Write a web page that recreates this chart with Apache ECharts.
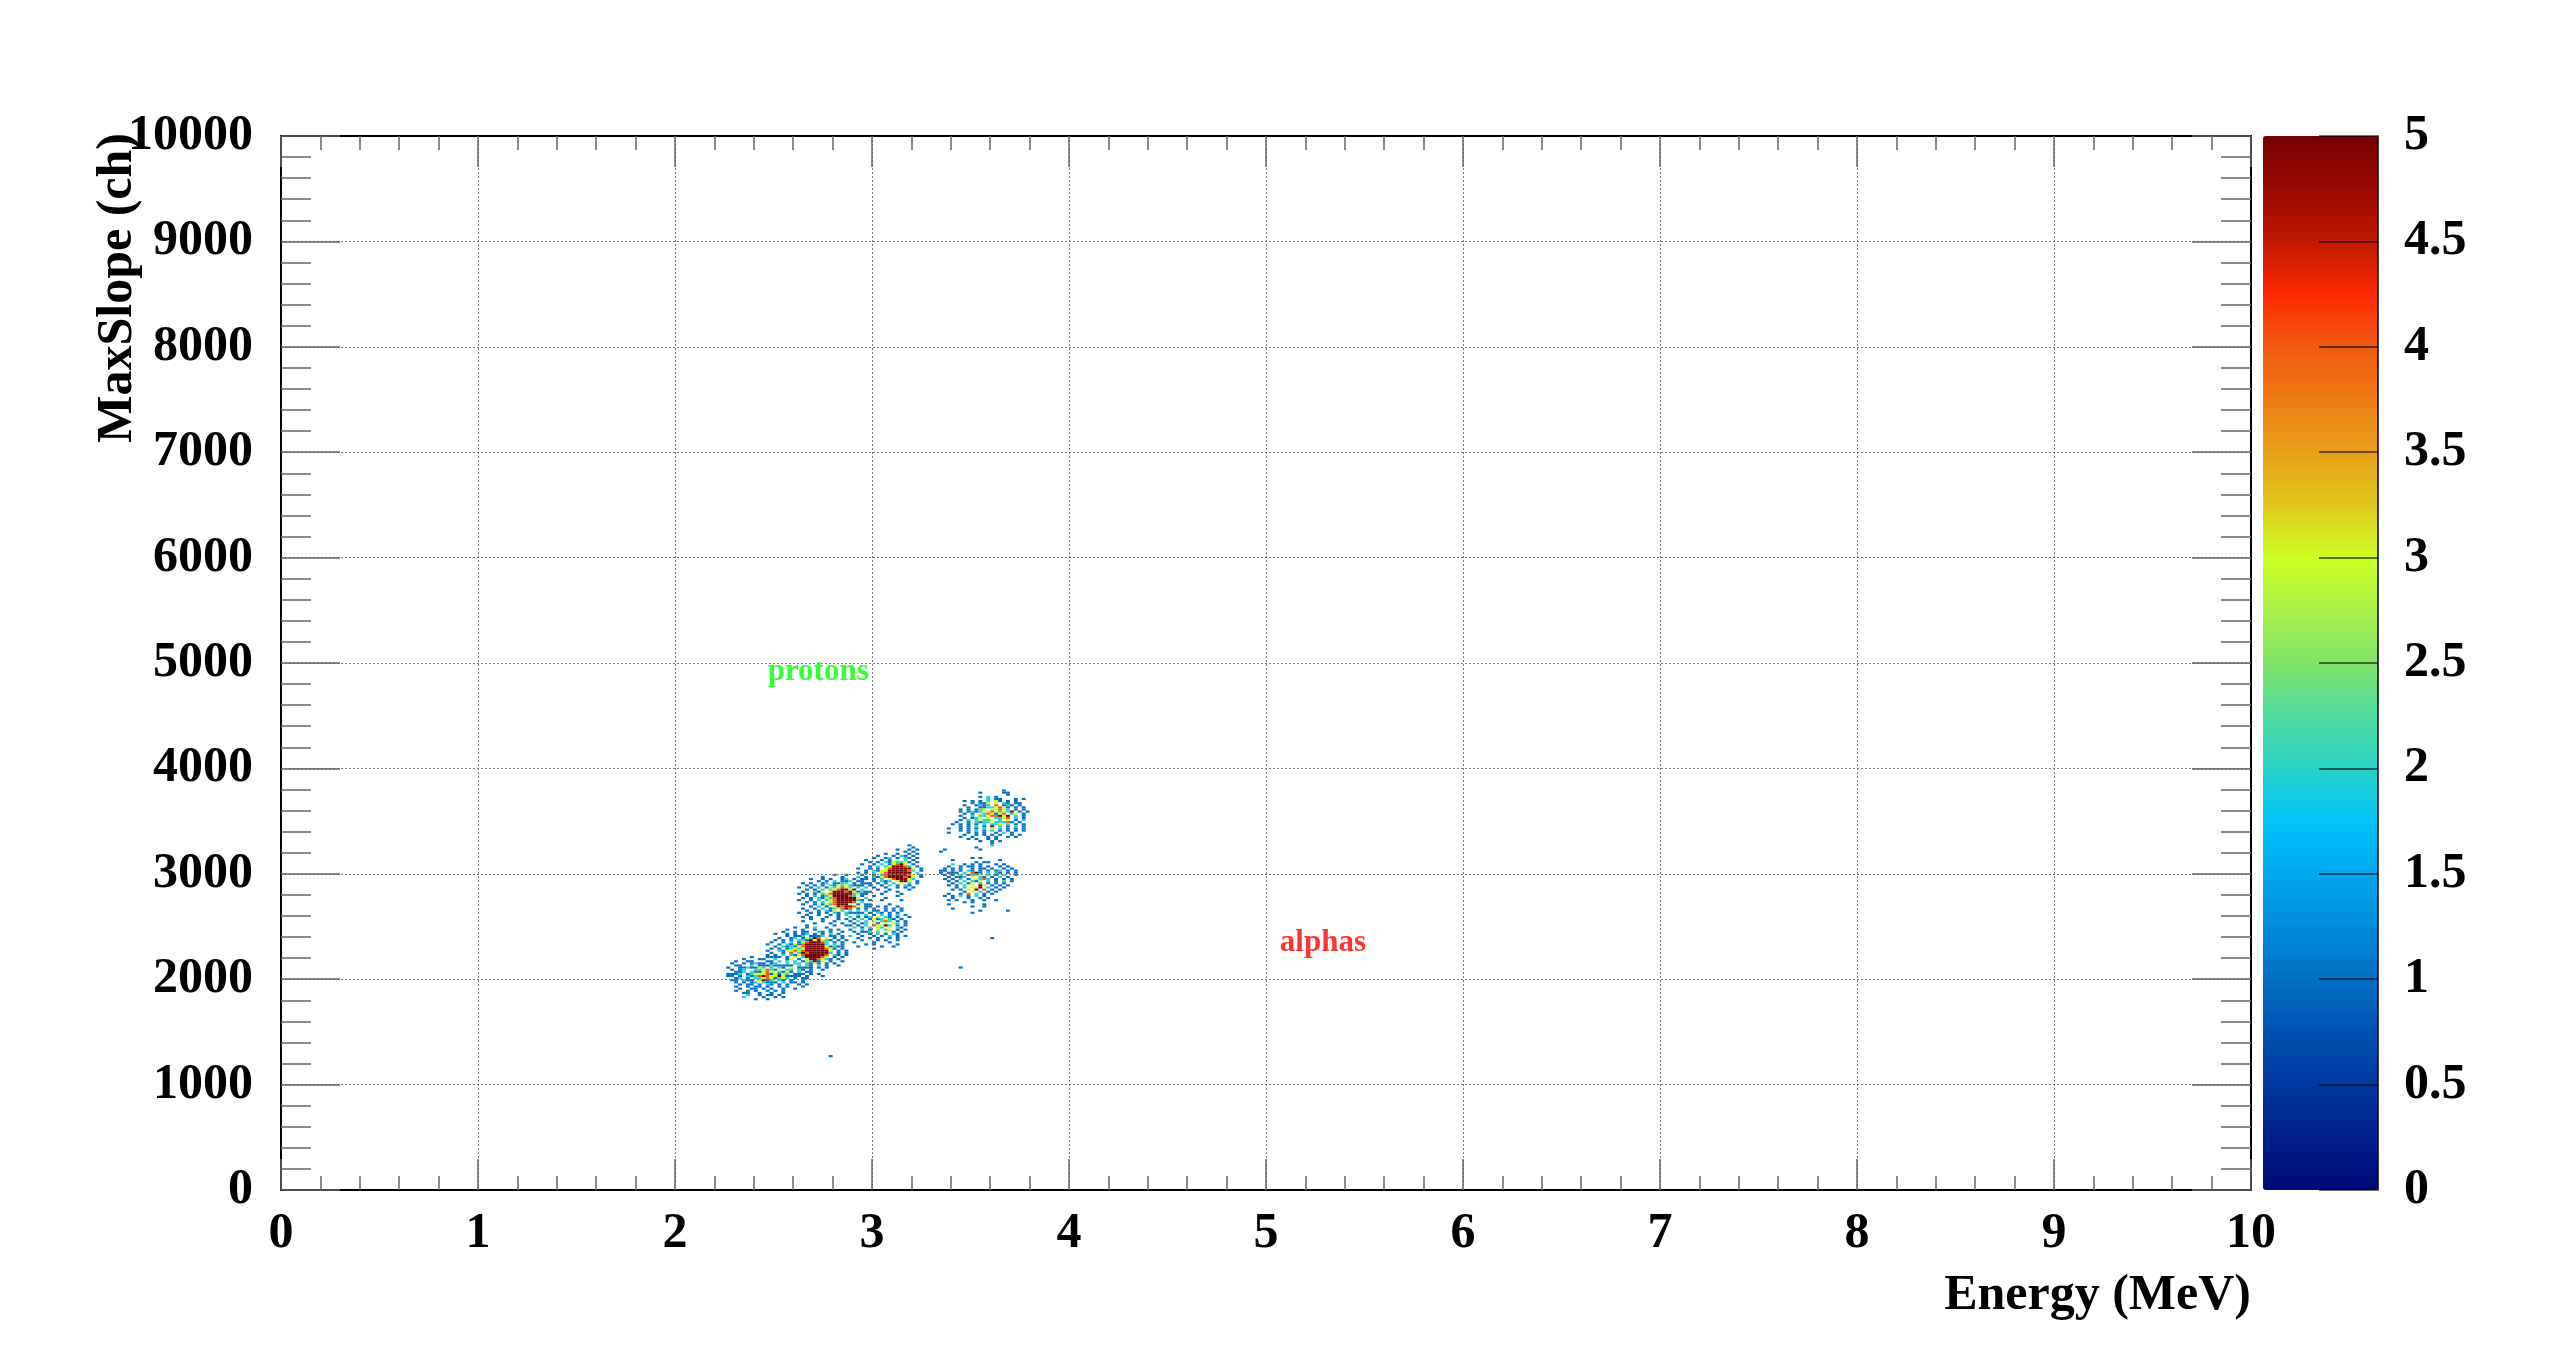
<!DOCTYPE html>
<html>
<head>
<meta charset="utf-8">
<script src="https://cdn.jsdelivr.net/npm/echarts/dist/echarts.min.js"></script>
<style>
html,body{margin:0;padding:0;background:#fff;}
#chart{width:2558px;height:1362px;}
</style>
</head>
<body>
<div id="chart"></div>
<script>
// ---------------- axis ticks ----------------
const xTicks = [0, 1, 2, 3, 4, 5, 6, 7, 8, 9, 10];
const yTicks = [0, 1000, 2000, 3000, 4000, 5000, 6000, 7000, 8000, 9000, 10000];
const zTicks = [0, 0.5, 1, 1.5, 2, 2.5, 3, 3.5, 4, 4.5, 5];

// ---------------- histogram binning ----------------
const BIN_E = 0.02;   // MeV per bin
const BIN_S = 20;     // ch per bin

// Each cluster: [first column bin index, bin index of the top row], rows listed top -> bottom,
// one character per bin ('.' = empty, digit = counts).
const clusterA_origin = [113, 110];
const clusterA = [
  "......1...1.1.........",
  "....1...11..1...1.....",
  "..1..11...1..1.1......",
  ".1..1.1211.11..1.1....",
  "..11..2.11.211.1..1...",
  "1..1121132.1.11.2.1.1.",
  ".1.12..2234212.12.11..",
  "..112.21134232121.1..1",
  "1112.12333413122.1.1..",
  "11.1.212454325311.1.1.",
  "..12.1.223431231.1.1..",
  ".11.211.3512321.1..1..",
  "..1.1.12.2111.2.11.1..",
  "...1.11.1.21.1.1..1.1.",
  "..1..1.11.1..1.1...1..",
  "...1..11.1.1..1..1....",
  "..1..1.1..1.1.1.......",
  "....11..1..1..1.......",
  ".....2..1.11.1........",
  "....2....1..1.1.......",
  ".......1..1..........."
];

const clusterB_origin = [122, 124];
const clusterB = [
  "........1..1.1..1......",
  "......1...1..1...1.1...",
  ".....1..1.11..21.1..1..",
  "...1..1.1.12.1.1.2.1...",
  "......1.112.1112.11.1.1",
  "....1..12.13254.3.1.1..",
  "...1.1.1.221535321.1.1.",
  "..1..1.2.13455542.1.1..",
  ".1..1.21314555552.2.1..",
  "...1.2121345555531211..",
  "..1.1.1232355555431.1..",
  ".1..21334345555553.1.1.",
  "..1..1.4.254555552.1.1.",
  ".1.1.2.2134555554.21.1.",
  "..1.1.1.3.2555543.1.1..",
  "...1..12.1.3554321.1...",
  "..1.1.1.2.132513.1..1..",
  "...1..1.12.2131.1.1....",
  ".1...1.1.1.21.2.1..1...",
  "..1.1..1..1.1.1.1......",
  "....1.1..1..1..1.......",
  "..1...1..1.1...........",
  ".....1...1..1.1........",
  "...1....1......1.......",
  "......1....1..........."
];

const clusterC_origin = [130, 149];
const clusterC = [
  "..........1..1......",
  ".......1....1...1...",
  "....1..1.1..12.1.1..",
  "......1.1.2.112.1...",
  "..1.1..12.1122.1.1.1",
  "...1.1.1.2132321.1..",
  ".1..1.2.1323432.2.1.",
  "...1.1.2.2345535.1..",
  "..1..213.3555453121.",
  ".1.1.1.2345555523.1.",
  "...1.2.123555542.1..",
  "..1.1.21324555553.1.",
  ".1..1.2.2345555521.1",
  "...1.1.2.3455554.2..",
  "..1..1.13245553.1.1.",
  "....1.2.1.3545542.1.",
  "..1..1.2.123453.1...",
  "...1..1.213.2.2.1.1.",
  ".1..1.1.1.21.21.1...",
  "...1..1..1.1.1..1...",
  "..1.1...1..1..1.....",
  "....1..1...1.1......",
  "..1....1..1.....1...",
  ".....1...1..1.......",
  "...1......1..1......",
  ".....1.........1...."
];

const clusterD_origin = [143, 135];
const clusterD = [
  "......1....1.....",
  "...1..1.1.1..1...",
  ".1...1.1..1.1.1..",
  "...1.1.11.1.1.1..",
  "..1.1.1.21.1.1...",
  "1..1.2.1.2.1.2.1.",
  ".1.1.12.3.21.1..1",
  "..1.2.1312321.1..",
  ".1.1.2.3.242.1.1.",
  "..1.12.31.3.32.1.",
  ".1.1.2.43352.1.1.",
  "..1.1.2.32.3.21..",
  ".1..2.1.3.23.1.1.",
  "..1.112.2.3.1.1..",
  "...1..1.2.1.21...",
  ".1..1..1.1.2.1.1.",
  "...1..1.1..1.1...",
  "....1...1.1..1...",
  "..1....1...1.....",
  ".....1.1.....1...",
  "...1.....1..1....",
  ".......1........."
];

const clusterE_origin = [145, 163];
const clusterE = [
  "..............1...",
  "...............1..",
  "...........1..1.1.",
  ".............1.1..",
  "........1..1..1.1.",
  "......1...1.21.1..",
  ".....1..12.1.21.1.",
  "...1...1.1.3.2.1..",
  "....1.1.2132231.1.",
  "..1..1.2.13453.1..",
  "....1.2.2355542.1.",
  ".1..1.1.34555553.1",
  "...1.21335555542.1",
  ".1.1.2.34555555.2.",
  "..1..1.245555543.1",
  ".1.1.21345555453.1",
  "...1.1.2.3455532..",
  "..1..1.212.3553.1.",
  "...1..1.1.2.3.2.1.",
  ".1..1..1.2.1.21...",
  "...1.1..1..1.1.1..",
  "..1...1..1....1...",
  "....1...1..1......",
  "..1....1....1.....",
  ".....1.....1......",
  "...1....1.........",
  ".......1....1....."
];

const clusterF_origin = [167, 157];
const clusterF = [
  "........1.1..........",
  "...1...........1.....",
  ".........1.11........",
  "...2..1.1.1...1.1....",
  "..1..1.11.1.1..1.1...",
  ".1.1.1..1.11.1..1.1..",
  "11.1.1.21.1.1.12.1.1.",
  "1.111.2.451.2.21.1.1.",
  ".1.1.2.1223.2.1.2..1.",
  "..1.112.3.21.1.2.1...",
  ".1.1.2.1.3242.1.1.1..",
  "..1.1.2.213.2.1.2.1..",
  "...1.2.13.2.1.1.1....",
  "..1.1.2.3.53.1.1.1...",
  "....1.2.335.2.1.1....",
  "...1.1.3.5.4.1.1.....",
  "......1.3.2.1.1......",
  "..1..1.4.2.1.1.......",
  ".1.1.2.1.2.1.........",
  "...1...1..1.1........",
  "..1.1...1..1..1......",
  "......1.1............",
  "..1........1.........",
  "........1..1.........",
  "...1.................",
  "..........1......1...",
  "........1............"
];

const clusterG_origin = [169, 189];
const clusterG = [
  "..............1......",
  "........1.....11.....",
  "...............1.....",
  "........1.2.1........",
  "..........2.11...1.1.",
  "....1.1.1.2.31.1.1...",
  "......1.113.3.21.11..",
  "....1..1212.4.121.1..",
  ".....1..11223431.1.1.",
  "...1.1.123.33432.1.1.",
  "...1.1212.3432325.1.1",
  "....1.1.3243134.23.1.",
  "...1..2.22344535.2.1.",
  "....1.123.3.2234.2.1.",
  "...1.2.2.223.2.3.1.2.",
  "..1..1.2122.22241.1..",
  ".1.1.1.1.2.223.2.1.1.",
  "...1.1.2.1.5.2.1.2.1.",
  "1..1.1.1.2.3.2.1.1.1.",
  "...1.1.2.1.2.1.1.1.1.",
  ".....1.1.1..1.2.1....",
  "....1..1.1.1.1..1.1..",
  "...1..1...1.1..1.1...",
  ".....1.1..1.1........",
  "........1..1.1.......",
  "...........1.........",
  "...........2.........",
  ".......1.............",
  "........1............"
];

// isolated single entries
const strayE = [2.78, 3.44, 3.60, 3.34, 3.36, 3.38];
const strayS = [1260, 2100, 2380, 3200, 3220, 3380];
const strayN = [1, 1, 1, 1, 1, 1];

// text annotations
const noteText  = ['protons', 'alphas'];
const noteE     = [2.47, 5.07];
const noteS     = [4915, 2343];
const noteColor = ['#00ff00', '#ff0000'];

// ---------------- build histogram cells ----------------
const counts = new Map();
function addCount(i, j, v) {
  const k = i + ',' + j;
  counts.set(k, (counts.get(k) || 0) + v);
}
function addBlock(rows, origin) {
  rows.forEach((row, r) => {
    for (let c = 0; c < row.length; c++) {
      const ch = row[c];
      if (ch === '.' || ch === ' ') continue;
      addCount(origin[0] + c, origin[1] - r, Number(ch));
    }
  });
}
addBlock(clusterA, clusterA_origin);
addBlock(clusterB, clusterB_origin);
addBlock(clusterC, clusterC_origin);
addBlock(clusterD, clusterD_origin);
addBlock(clusterE, clusterE_origin);
addBlock(clusterF, clusterF_origin);
addBlock(clusterG, clusterG_origin);
strayE.forEach((e, k) => addCount(Math.floor(e / BIN_E + 1e-6), Math.floor(strayS[k] / BIN_S + 1e-6), strayN[k]));

const cells = [];
counts.forEach((v, k) => {
  const [i, j] = k.split(',').map(Number);
  cells.push([+(i * BIN_E).toFixed(4), j * BIN_S, v]);
});

// ---------------- styling ----------------
const FONT = 'Liberation Serif';
const labelStyle = { fontFamily: FONT, fontWeight: 'bold', fontSize: 50, color: '#000' };
const tickLine = { color: '#666', width: 1.5 };
const frameLine = { color: '#000', width: 2 };
const gridLine = { color: '#7a7a7a', width: 1, type: [2, 2] };

const palette = [
  '#000a78', '#00208c', '#0038a0', '#0052b2', '#0070c4', '#008cda', '#00a8ee', '#00c4fa',
  '#28d2c8', '#50dca0', '#80e468', '#a8f048', '#ccff22', '#e0c81c', '#e8a018', '#ee7c14',
  '#f05a10', '#ff2a00', '#c01800', '#980a00', '#780000'
];

const G = { left: 281, top: 136, width: 1970, height: 1054 };
const CB = { left: 2263, top: 136, width: 115, height: 1054 };

function xAx(extra) {
  return Object.assign({
    type: 'value', gridIndex: 0,
    min: xTicks[0], max: xTicks[xTicks.length - 1], interval: xTicks[1] - xTicks[0],
    axisLine: { show: true, onZero: false, lineStyle: frameLine },
    axisTick: { show: true, inside: true, length: 31, lineStyle: tickLine },
    minorTick: { show: true, splitNumber: 5, length: 14, lineStyle: tickLine },
    z: 5
  }, extra);
}
function yAx(extra) {
  return Object.assign({
    type: 'value', gridIndex: 0,
    min: yTicks[0], max: yTicks[yTicks.length - 1], interval: yTicks[1] - yTicks[0],
    axisLine: { show: true, onZero: false, lineStyle: frameLine },
    axisTick: { show: true, inside: true, length: 59, lineStyle: tickLine },
    minorTick: { show: true, splitNumber: 5, length: 30, lineStyle: tickLine },
    z: 5
  }, extra);
}

const chart = echarts.init(document.getElementById('chart'), null, { renderer: 'canvas' });
chart.setOption({
  backgroundColor: '#ffffff',
  animation: false,
  grid: [
    Object.assign({ containLabel: false, outerBoundsMode: 'none' }, G),
    Object.assign({ containLabel: false, outerBoundsMode: 'none' }, CB)
  ],
  xAxis: [
    xAx({ position: 'bottom',
      splitLine: { show: true, lineStyle: gridLine },
      axisLabel: Object.assign({ margin: 19, formatter: v => String(v) }, labelStyle) }),
    xAx({ position: 'top', splitLine: { show: false }, axisLabel: { show: false } }),
    { type: 'value', gridIndex: 1, min: 0, max: 1, show: false }
  ],
  yAxis: [
    yAx({ position: 'left',
      splitLine: { show: true, lineStyle: gridLine },
      axisLabel: Object.assign({ margin: 28, padding: [14, 0, 0, 0], formatter: v => String(v) }, labelStyle) }),
    yAx({ position: 'right', splitLine: { show: false }, axisLabel: { show: false } }),
    {
      type: 'value', gridIndex: 1, position: 'right',
      min: zTicks[0], max: zTicks[zTicks.length - 1], interval: zTicks[1] - zTicks[0],
      axisLine: { show: true, onZero: false, lineStyle: { color: '#000', width: 1.5 } },
      axisTick: { show: true, inside: true, length: 59, lineStyle: { color: 'rgba(0,0,0,0.55)', width: 2 } },
      minorTick: { show: false },
      splitLine: { show: false },
      axisLabel: Object.assign({ margin: 26, padding: [14, 0, 0, 0], formatter: v => String(v) }, labelStyle),
      z: 10
    }
  ],
  visualMap: {
    type: 'continuous',
    seriesIndex: 0,
    dimension: 2,
    min: zTicks[0], max: zTicks[zTicks.length - 1],
    orient: 'vertical',
    left: CB.left, top: CB.top,
    itemWidth: CB.width, itemHeight: CB.height,
    padding: 0,
    calculable: false,
    hoverLink: false,
    text: null,
    inRange: { color: palette },
    z: 4
  },
  graphic: [
    { type: 'text', x: 2251, y: 1296, z: 20,
      style: { text: 'Energy (MeV)', font: 'bold 50px "Liberation Serif"', fill: '#000',
               align: 'right', verticalAlign: 'middle' } },
    { type: 'text', x: 118, y: 133, rotation: Math.PI / 2, z: 20,
      style: { text: 'MaxSlope (ch)', font: 'bold 50px "Liberation Serif"', fill: '#000',
               align: 'right', verticalAlign: 'middle' } }
  ],
  series: [
    {
      type: 'custom',
      name: 'counts',
      xAxisIndex: 0, yAxisIndex: 0,
      data: cells,
      encode: { x: 0, y: 1 },
      silent: true,
      z: 2,
      renderItem: function (params, api) {
        const e = api.value(0), s = api.value(1);
        const p0 = api.coord([e, s]);
        const p1 = api.coord([e + BIN_E, s + BIN_S]);
        return {
          type: 'rect',
          shape: { x: p0[0], y: p1[1], width: p1[0] - p0[0], height: p0[1] - p1[1] },
          style: { fill: api.visual('color') }
        };
      }
    },
    {
      type: 'scatter',
      name: 'notes',
      xAxisIndex: 0, yAxisIndex: 0,
      symbolSize: 0.1,
      itemStyle: { color: 'rgba(0,0,0,0)' },
      silent: true,
      z: 6,
      data: noteText.map((t, k) => ({
        name: t,
        value: [noteE[k], noteS[k]],
        label: { color: noteColor[k] }
      })),
      label: {
        show: true, position: 'right', distance: 0,
        formatter: p => p.name,
        fontFamily: FONT, fontWeight: 'bold', fontSize: 31
      }
    }
  ]
});
</script>
</body>
</html>
